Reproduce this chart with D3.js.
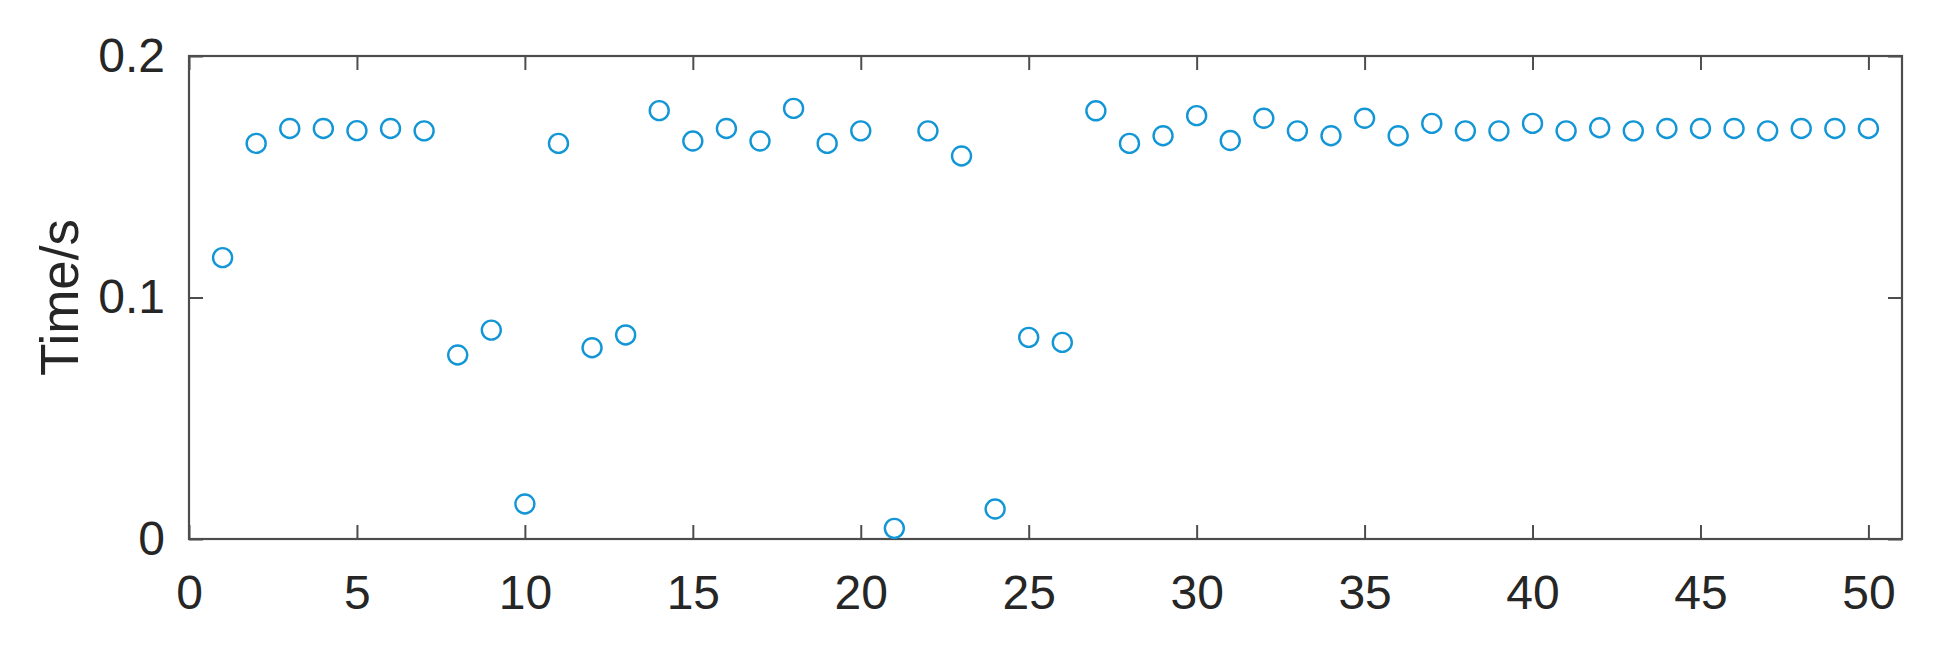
<!DOCTYPE html>
<html>
<head>
<meta charset="utf-8">
<script src="https://cdn.jsdelivr.net/npm/d3@7"></script>
<style>
  html, body { margin: 0; padding: 0; background: #fff; }
  svg { display: block; }
</style>
</head>
<body>
<div id="chart"></div>
<script>
// run index 1..50, time per run (s)
const runs = d3.range(1, 51);
const times = [
  0.1165, 0.1638, 0.1700, 0.1700, 0.1691, 0.1700, 0.1690, 0.0762, 0.0865, 0.0145,
  0.1638, 0.0792, 0.0845, 0.1774, 0.1648, 0.1700, 0.1648, 0.1783, 0.1638, 0.1690,
  0.0044, 0.1690, 0.1586, 0.0124, 0.0835, 0.0814, 0.1773, 0.1638, 0.1670, 0.1753,
  0.1650, 0.1742, 0.1690, 0.1670, 0.1742, 0.1670, 0.1721, 0.1690, 0.1690, 0.1721,
  0.1690, 0.1703, 0.1690, 0.1700, 0.1700, 0.1700, 0.1690, 0.1700, 0.1700, 0.1700
];
const xTicks = d3.range(0, 51, 5);
const yTicks = [0, 0.1, 0.2];
const yLabel = "Time/s";

const width = 1938, height = 666;
const margin = { top: 56, right: 36, bottom: 127, left: 189 };
const fontFamily = "'Liberation Sans', Arial, sans-serif";
const axisColor = "#4d4d4d";
const textColor = "#262626";
const markerColor = "#1296d6";

const svg = d3.select("#chart").append("svg")
  .attr("width", width)
  .attr("height", height);

const x = d3.scaleLinear()
  .domain([0, 51])
  .range([margin.left, width - margin.right]);

const y = d3.scaleLinear()
  .domain([0, 0.2])
  .range([height - margin.bottom, margin.top]);

const tickLen = 14;

function styleAxis(g, showLabels) {
  g.select(".domain").remove();
  g.selectAll(".tick line")
    .attr("stroke", axisColor)
    .attr("stroke-width", 2);
  g.selectAll(".tick text")
    .attr("fill", textColor)
    .style("font-family", fontFamily)
    .style("font-size", "48px")
    .style("display", showLabels ? null : "none");
}

// bottom axis
svg.append("g")
  .attr("transform", `translate(0,${y(0)})`)
  .call(d3.axisBottom(x).tickValues(xTicks).tickSizeInner(-tickLen).tickSizeOuter(0).tickPadding(36).tickFormat(d3.format("d")))
  .call(g => styleAxis(g, true));

// top axis (ticks only)
svg.append("g")
  .attr("transform", `translate(0,${y(0.2)})`)
  .call(d3.axisTop(x).tickValues(xTicks).tickSizeInner(-tickLen).tickSizeOuter(0))
  .call(g => styleAxis(g, false));

// left axis
svg.append("g")
  .attr("transform", `translate(${x(0)},0)`)
  .call(d3.axisLeft(y).tickValues(yTicks).tickSizeInner(-tickLen).tickSizeOuter(0).tickPadding(24).tickFormat(d => d === 0 ? "0" : d3.format(".1f")(d)))
  .call(g => styleAxis(g, true));

// right axis (ticks only)
svg.append("g")
  .attr("transform", `translate(${x(51)},0)`)
  .call(d3.axisRight(y).tickValues(yTicks).tickSizeInner(-tickLen).tickSizeOuter(0))
  .call(g => styleAxis(g, false));

// box
svg.append("rect")
  .attr("x", x(0))
  .attr("y", y(0.2))
  .attr("width", x(51) - x(0))
  .attr("height", y(0) - y(0.2))
  .attr("fill", "none")
  .attr("stroke", axisColor)
  .attr("stroke-width", 2.2);

// markers
svg.append("g")
  .selectAll("circle")
  .data(runs)
  .join("circle")
  .attr("cx", (d, i) => x(d))
  .attr("cy", (d, i) => y(times[i]))
  .attr("r", 9.5)
  .attr("fill", "none")
  .attr("stroke", markerColor)
  .attr("stroke-width", 2.4);

// y label
svg.append("text")
  .attr("transform", `translate(78,${(y(0) + y(0.2)) / 2}) rotate(-90)`)
  .attr("text-anchor", "middle")
  .attr("fill", textColor)
  .style("font-family", fontFamily)
  .style("font-size", "53px")
  .text(yLabel);
</script>
</body>
</html>
